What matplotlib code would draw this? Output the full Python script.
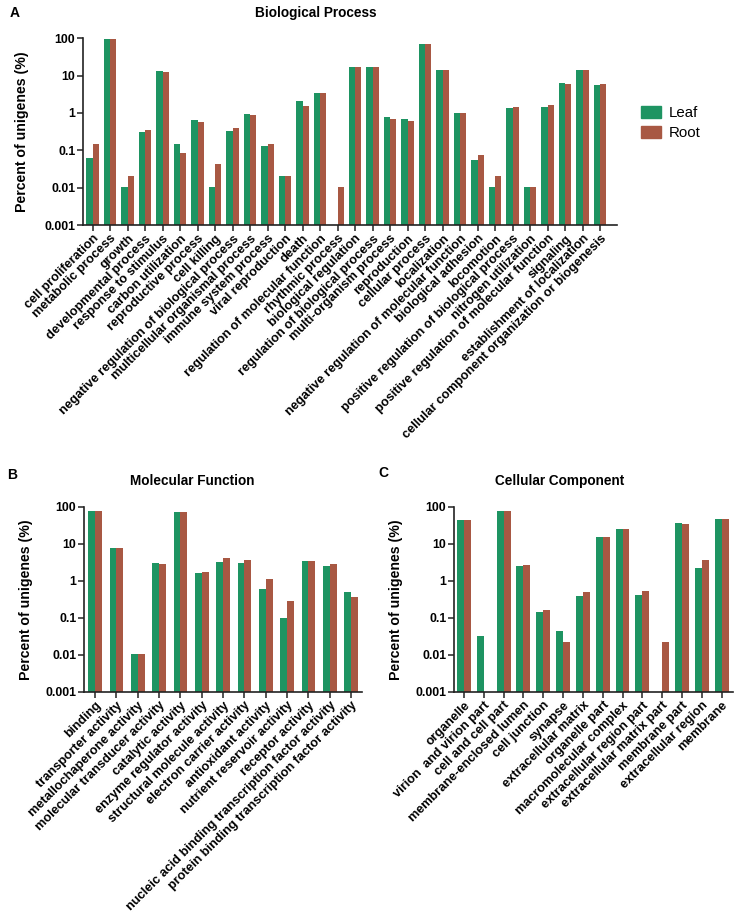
import numpy as np
import matplotlib
matplotlib.use("Agg")
import matplotlib.pyplot as plt
from matplotlib.patches import Patch

plt.rcParams['font.family'] = ['Liberation Sans', 'DejaVu Sans']
plt.rcParams['font.weight'] = 'bold'

LEAF_COLOR = '#1e9462'
ROOT_COLOR = '#a85843'

# === Data ===
bp_terms = [
    "cell proliferation", "metabolic process", "growth", "developmental process",
    "response to stimulus", "carbon utilization", "reproductive process", "cell killing",
    "negative regulation of biological process", "multicellular organismal process",
    "immune system process", "viral reproduction", "death",
    "regulation of molecular function", "rhythmic process", "biological regulation",
    "regulation of biological process", "multi-organism process", "reproduction",
    "cellular process", "localization", "negative regulation of molecular function",
    "biological adhesion", "locomotion", "positive regulation of biological process",
    "nitrogen utilization", "positive regulation of molecular function", "signaling",
    "establishment of localization", "cellular component organization or biogenesis",
]
bp_leaf = [0.064, 93, 0.0104, 0.31, 13.1, 0.148, 0.65, 0.0104, 0.32, 0.94,
           0.13, 0.021, 2.15, 3.36, np.nan, 16.6, 16.6, 0.77, 0.69, 72,
           14.6, 0.98, 0.055, 0.0104, 1.36, 0.0104, 1.48, 6.2, 14.6, 5.6]
bp_root = [0.148, 93, 0.021, 0.35, 12.3, 0.085, 0.57, 0.043, 0.39, 0.88,
           0.148, 0.021, 1.55, 3.5, 0.0104, 16.6, 16.6, 0.68, 0.61, 69,
           14.6, 1.02, 0.076, 0.021, 1.44, 0.0104, 1.6, 5.9, 14.6, 5.8]

mf_terms = [
    "binding", "transporter activity", "metallochaperone activity",
    "molecular transducer activity", "catalytic activity", "enzyme regulator activity",
    "structural molecule activity", "electron carrier activity", "antioxidant activity",
    "nutrient reservoir activity", "receptor activity",
    "nucleic acid binding transcription factor activity",
    "protein binding transcription factor activity",
]
mf_leaf = [78, 7.85, 0.0104, 2.98, 73, 1.66, 3.2, 2.98, 0.6, 0.1, 3.5, 2.57, 0.5]
mf_root = [75, 7.6, 0.0104, 2.8, 73, 1.74, 4.1, 3.66, 1.1, 0.28, 3.45, 2.9, 0.355]

cc_terms = [
    "organelle", "virion  and virion part", "cell and cell part",
    "membrane-enclosed lumen", "cell junction", "synapse", "extracellular matrix",
    "organelle part", "macromolecular complex", "extracellular region part",
    "extracellular matrix part", "membrane part", "extracellular region", "membrane",
]
cc_leaf = [44, 0.033, 76, 2.5, 0.14, 0.045, 0.39, 15, 24.6, 0.42, np.nan, 35.6, 2.2, 47.6]
cc_root = [44.5, np.nan, 76, 2.6, 0.16, 0.022, 0.51, 15, 25.5, 0.52, 0.022, 34, 3.6, 47]

y_ticks = [0.001, 0.01, 0.1, 1, 10, 100]
y_tick_labels = ["0.001", "0.01", "0.1", "1", "10", "100"]

fig = plt.figure(figsize=(7.42, 9.22), dpi=100)
W, H = 742, 922


def add_axes_px(x0, y0, x1, y1):
    return fig.add_axes([x0 / W, 1 - y1 / H, (x1 - x0) / W, (y1 - y0) / H])


def draw_panel(ax, terms, leaf, root, width, xlim, ylabel_x):
    x = np.arange(len(terms))
    ax.bar(x - width / 2, leaf, width, color=LEAF_COLOR, log=True)
    ax.bar(x + width / 2, root, width, color=ROOT_COLOR, log=True)
    ax.set_yscale('log')
    ax.set_ylim(0.001, 100)
    ax.set_xlim(*xlim)
    ax.set_yticks(y_ticks)
    ax.set_yticklabels(y_tick_labels, fontsize=8.8)
    ax.yaxis.set_minor_locator(matplotlib.ticker.NullLocator())
    ax.set_xticks(x)
    ax.set_xticklabels(terms, rotation=45, ha='right', rotation_mode='anchor',
                       fontsize=9.2, fontweight='bold')
    for s in ['top', 'right']:
        ax.spines[s].set_visible(False)
    for s in ['left', 'bottom']:
        ax.spines[s].set_linewidth(1.2)
        ax.spines[s].set_color('#222222')
    ax.tick_params(axis='both', length=4, width=1.1, color='#222222', pad=1.5)
    ax.set_ylabel("Percent of unigenes (%)", fontsize=10.2, fontweight='bold')
    ax.yaxis.set_label_coords(ylabel_x / W, 0.5,
                              transform=matplotlib.transforms.blended_transform_factory(
                                  fig.transFigure, ax.transAxes))


ax_a = add_axes_px(83, 38.3, 617, 225)
draw_panel(ax_a, bp_terms, bp_leaf, bp_root, 0.36, (-0.55, 29.97), 29)

ax_b = add_axes_px(84, 506.7, 361.7, 691.7)
draw_panel(ax_b, mf_terms, mf_leaf, mf_root, 0.32, (-0.52, 12.5), 33)

ax_c = add_axes_px(454, 506.7, 733, 691.7)
draw_panel(ax_c, cc_terms, cc_leaf, cc_root, 0.35, (-0.5, 13.57), 403)

# panel titles and letters
fig.text(316 / W, 1 - 13 / H, "Biological Process", ha='center', va='center',
         fontsize=9.8, fontweight='bold')
fig.text(10 / W, 1 - 13 / H, "A", ha='left', va='center', fontsize=10, fontweight='bold')
fig.text(192 / W, 1 - 480.7 / H, "Molecular Function", ha='center', va='center',
         fontsize=9.8, fontweight='bold')
fig.text(7 / W, 1 - 475 / H, "B", ha='left', va='center', fontsize=10, fontweight='bold')
fig.text(560 / W, 1 - 480.7 / H, "Cellular Component", ha='center', va='center',
         fontsize=9.8, fontweight='bold')
fig.text(378 / W, 1 - 473 / H, "C", ha='left', va='center', fontsize=10, fontweight='bold')

handles = [Patch(color=LEAF_COLOR, label='Leaf'), Patch(color=ROOT_COLOR, label='Root')]
leg = fig.legend(handles=handles, loc='upper left', bbox_to_anchor=(629 / W, 1 - 94 / H),
                 frameon=False, fontsize=10.8, handlelength=1.33, handleheight=0.8,
                 handletextpad=0.55, labelspacing=0.4, borderpad=0.3)
for t in leg.get_texts():
    t.set_fontweight('normal')

fig.savefig("out.png", dpi=100)
